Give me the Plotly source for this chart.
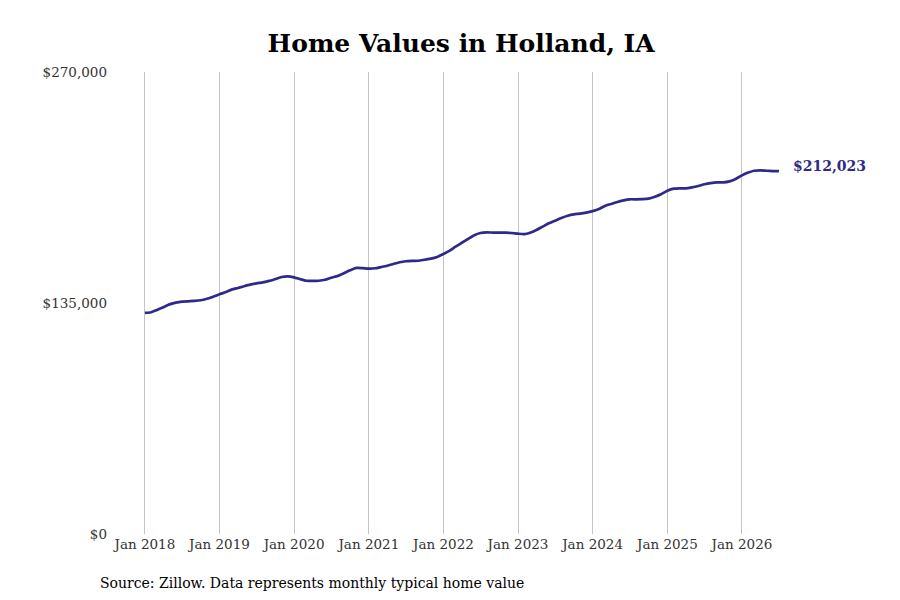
import pandas as pd
import plotly.graph_objects as go

# monthly typical home value, Jan 2018 .. Jul 2026
start_month = "2018-01-01"
values = [
    129200, 129600, 130900, 132500, 134200, 135200, 135800, 136000, 136200, 136600, 137500, 138700,  # 2018
    140100, 141400, 142800, 143800, 144800, 145700, 146500, 147100, 147900, 149000, 150200, 150600,  # 2019
    150000, 148900, 148000, 147900, 148000, 148600, 149800, 150800, 152400, 154100, 155500, 155400,  # 2020
    155100, 155300, 156000, 156800, 157800, 158800, 159400, 159600, 159700, 160300, 160900, 161900,  # 2021
    163600, 165600, 167900, 170200, 172400, 174600, 175900, 176300, 176100, 176100, 176100, 175900,  # 2022
    175500, 175300, 176100, 177700, 179600, 181600, 183100, 184700, 186000, 186800, 187200, 187800,  # 2023
    188700, 189900, 191700, 192900, 194000, 195000, 195600, 195600, 195700, 196000, 197100, 198500,  # 2024
    200600, 201800, 202000, 202000, 202600, 203400, 204400, 205100, 205500, 205500, 206100, 207500,  # 2025
    209600, 211200, 212300, 212500, 212300, 212100, 212023,                                          # 2026
]
dates = pd.date_range(start_month, periods=len(values), freq="MS")

year_ticks = pd.date_range("2018-01-01", "2026-01-01", freq="YS")
year_labels = [d.strftime("Jan %Y") for d in year_ticks]
y_ticks = [0, 135000, 270000]
y_labels = ["$0", "$135,000", "$270,000"]

line_color = "#2e2a8a"
font_family = "DejaVu Serif"

fig = go.Figure()
fig.add_trace(go.Scatter(
    x=dates, y=values, mode="lines",
    line=dict(color=line_color, width=2.7, shape="spline", smoothing=0.6),
    hoverinfo="skip", showlegend=False,
))

fig.add_annotation(
    x=dates[-1], y=values[-1], text="<b>$%s</b>" % format(values[-1], ","),
    showarrow=False, xanchor="left", xshift=12, yshift=5,
    font=dict(family=font_family, size=14, color=line_color),
)

fig.add_annotation(
    xref="paper", yref="paper", x=-0.021, y=-0.106, xanchor="left", yanchor="middle",
    text="Source: Zillow. Data represents monthly typical home value",
    showarrow=False, font=dict(family=font_family, size=14, color="#000000"),
)

# page has an 8px body margin, so the figure is drawn 8px smaller and shifted
fig.update_layout(
    width=892, height=592,
    margin=dict(l=104, r=110, t=64, b=66),
    paper_bgcolor="white", plot_bgcolor="white",
    font=dict(family=font_family, size=13.5, color="#333333"),
    title=dict(text="<b>Home Values in Holland, IA</b>", x=0.508, xanchor="center",
               y=0.94, yanchor="middle", font=dict(family=font_family, size=25, color="#000000")),
    xaxis=dict(
        type="date", range=["2017-07-24", "2026-08-24"],
        tickvals=year_ticks, ticktext=year_labels,
        showgrid=True, gridcolor="#c4c4c4", gridwidth=1,
        zeroline=False, showline=False, ticks="", ticklabelstandoff=0,
    ),
    yaxis=dict(
        range=[0, 270000], tickvals=y_ticks, ticktext=y_labels,
        showgrid=False, zeroline=False, showline=False, ticks="", ticklabelstandoff=4,
    ),
)

fig.write_html("out.html")
